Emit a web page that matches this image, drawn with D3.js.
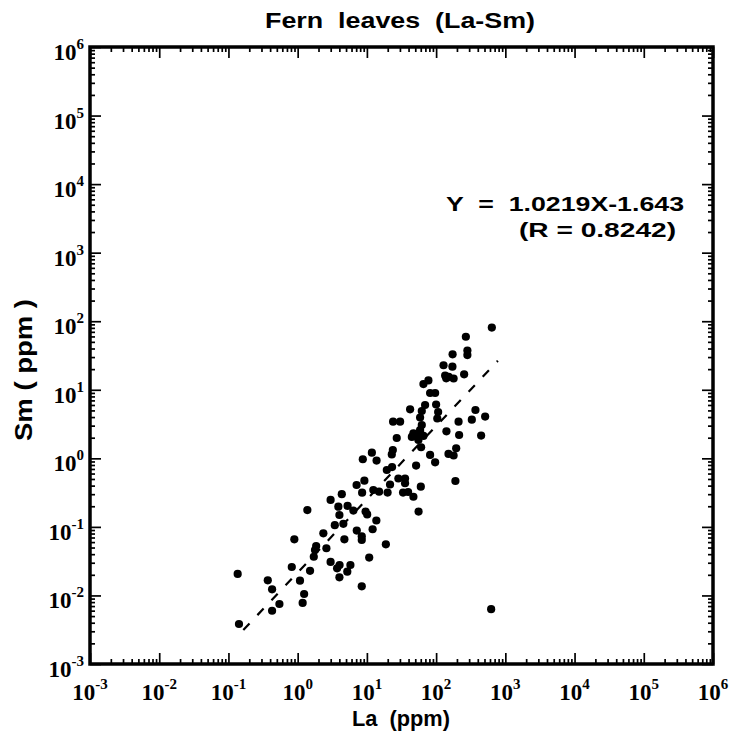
<!DOCTYPE html>
<html>
<head>
<meta charset="utf-8">
<script src="https://cdn.jsdelivr.net/npm/d3@7/dist/d3.min.js"></script>
<style>
  html, body { margin: 0; padding: 0; background: #fff; }
  svg { display: block; }
  .sans { font-family: "Liberation Sans", Arial, Helvetica, sans-serif; font-weight: bold; }
  .serif { font-family: "Liberation Serif", "Times New Roman", serif; font-weight: bold; }
</style>
</head>
<body>
<svg id="chart" width="731" height="732"></svg>
<script>
// ---- data ----
const laValues = [638,269,283,283,173,128,172,135,152,179,
  140,254,77.4,65.6,81.9,96.8,69.3,100,42.1,62.1,
  58.7,107,104,370,511,328,23.9,30.2,211,62.1,
  58.7,141,47.0,52.6,58.7,65.6,44.6,55.5,27.0,215,
  447,60.7,23.7,22.9,195,151,179,81.9,96.8,8.73,
  11.8,13.8,51.4,19.4,23.1,28.5,35.6,35.6,190,7.10,
  9.20,21.6,8.53,12.4,15.0,19.9,33.3,39.4,47.0,60.1,
  4.34,2.99,3.87,4.01,5.26,6.38,9.57,10.1,1.38,55.8,
  13.7,12.1,3.44,4.57,7.14,8.43,8.43,2.35,4.73,0.895,
  18.8,1.85,1.78,2.60,1.71,10.8,2.99,4.03,3.71,5.78,
  5.21,4.01,0.822,1.51,1.08,8.43,0.136,0.370,0.427,1.24,
  1.18,0.545,0.427,0.142,624];
const smValues = [80.9,59.4,37.4,32.1,32.9,22.8,21.7,16.1,15.4,14.6,
  14.7,16.8,13.7,12.1,8.97,8.97,6.0,6.10,5.19,4.90,
  3.94,4.74,3.81,5.07,4.07,3.66,3.42,3.42,3.42,3.06,
  2.59,2.48,2.32,2.08,2.42,2.12,2.05,1.85,1.98,2.19,
  2.15,1.45,1.32,1.14,1.40,1.16,1.10,1.12,0.875,0.970,
  1.21,0.929,0.785,0.676,0.746,0.508,0.508,0.433,0.467,0.408,
  0.472,0.415,0.316,0.345,0.326,0.317,0.317,0.323,0.275,0.386,
  0.300,0.247,0.197,0.149,0.202,0.173,0.167,0.152,0.176,0.167,
  0.124,0.0923,0.106,0.111,0.0885,0.0725,0.0644,0.0805,0.0659,0.0659,
  0.0557,0.0526,0.0460,0.0488,0.0367,0.0357,0.0308,0.0278,0.0249,0.0278,
  0.0222,0.0184,0.0260,0.0229,0.0164,0.0136,0.0206,0.0166,0.0123,0.0105,
  0.00777,0.00750,0.00598,0.00383,0.00630];
const fitLa = [0.164, 780];
const fitSm = [0.00313, 26.5];
const xTickExponents = [-3,-2,-1,0,1,2,3,4,5,6];
const yTickExponents = [-3,-2,-1,0,1,2,3,4,5,6];
const titleText = "Fern  leaves  (La-Sm)";
const xLabelText = "La  (ppm)";
const yLabelText = "Sm ( ppm )";
const equationLines = ["Y  =  1.0219X-1.643", "(R = 0.8242)"];

// ---- layout ----
const L = 90, R = 713, T = 47, B = 664;
const svg = d3.select("#chart");
const x = d3.scaleLog().domain([1e-3, 1e6]).range([L, R]);
const y = d3.scaleLog().domain([1e-3, 1e6]).range([B, T]);

const majors = xTickExponents.map(e => Math.pow(10, e));
const yMajors = yTickExponents.map(e => Math.pow(10, e));
const minors = [];
for (let e = -3; e < 6; e++) for (let m = 2; m <= 9; m++) minors.push(m * Math.pow(10, e));

function tickAxis(axisFn, scale, values, size, transform) {
  const g = svg.append("g").attr("transform", transform)
    .call(axisFn(scale).tickValues(values).tickSize(-size).tickFormat(""));
  g.select(".domain").remove();
  g.selectAll(".tick line").attr("stroke", "#000").attr("stroke-width", 1.7);
  return g;
}
tickAxis(d3.axisBottom, x, majors, 11, `translate(0,${B})`);
tickAxis(d3.axisBottom, x, minors, 5, `translate(0,${B})`);
tickAxis(d3.axisTop, x, majors, 11, `translate(0,${T})`);
tickAxis(d3.axisTop, x, minors, 5, `translate(0,${T})`);
tickAxis(d3.axisLeft, y, yMajors, 11, `translate(${L},0)`);
tickAxis(d3.axisLeft, y, minors, 5, `translate(${L},0)`);
tickAxis(d3.axisRight, y, yMajors, 11, `translate(${R},0)`);
tickAxis(d3.axisRight, y, minors, 5, `translate(${R},0)`);

// frame
svg.append("rect").attr("x", L).attr("y", T).attr("width", R - L).attr("height", B - T)
  .attr("fill", "none").attr("stroke", "#000").attr("stroke-width", 3.5);

// tick labels
xTickExponents.forEach(e => {
  const t = svg.append("text").attr("class", "serif").attr("x", x(Math.pow(10, e))).attr("y", 700)
    .attr("text-anchor", "middle").attr("font-size", 23);
  t.append("tspan").text("10");
  t.append("tspan").attr("dy", -11).attr("font-size", 15).text(String(e));
});
yTickExponents.forEach(e => {
  const t = svg.append("text").attr("class", "serif").attr("x", 84).attr("y", y(Math.pow(10, e)) + 13)
    .attr("text-anchor", "end").attr("font-size", 23);
  t.append("tspan").text("10");
  t.append("tspan").attr("dy", -11).attr("font-size", 15).text(String(e));
});

// regression line
svg.append("line")
  .attr("x1", x(fitLa[0])).attr("y1", y(fitSm[0]))
  .attr("x2", x(fitLa[1])).attr("y2", y(fitSm[1]))
  .attr("stroke", "#000").attr("stroke-width", 2.2).attr("stroke-dasharray", "9,11.5");

// points
svg.append("g").selectAll("circle").data(laValues.map((v, i) => [v, smValues[i]]))
  .join("circle").attr("cx", d => x(d[0])).attr("cy", d => y(d[1])).attr("r", 4.1).attr("fill", "#000");

// texts
svg.append("text").attr("class", "sans").attr("x", 265).attr("y", 28).attr("font-size", 22)
  .attr("textLength", 270).attr("lengthAdjust", "spacingAndGlyphs")
  .style("white-space", "pre").text(titleText);
svg.append("text").attr("class", "sans").attr("x", 352).attr("y", 726).attr("font-size", 22)
  .attr("textLength", 98).attr("lengthAdjust", "spacingAndGlyphs")
  .style("white-space", "pre").text(xLabelText);
svg.append("text").attr("class", "sans").attr("transform", "translate(32,370) rotate(-90)")
  .attr("text-anchor", "middle").attr("font-size", 23)
  .attr("textLength", 142).attr("lengthAdjust", "spacingAndGlyphs")
  .style("white-space", "pre").text(yLabelText);
svg.append("text").attr("class", "sans").attr("x", 446).attr("y", 211).attr("font-size", 20)
  .attr("textLength", 238).attr("lengthAdjust", "spacingAndGlyphs")
  .style("white-space", "pre").text(equationLines[0]);
svg.append("text").attr("class", "sans").attr("x", 519).attr("y", 237).attr("font-size", 20)
  .attr("textLength", 157).attr("lengthAdjust", "spacingAndGlyphs")
  .style("white-space", "pre").text(equationLines[1]);
</script>
</body>
</html>
